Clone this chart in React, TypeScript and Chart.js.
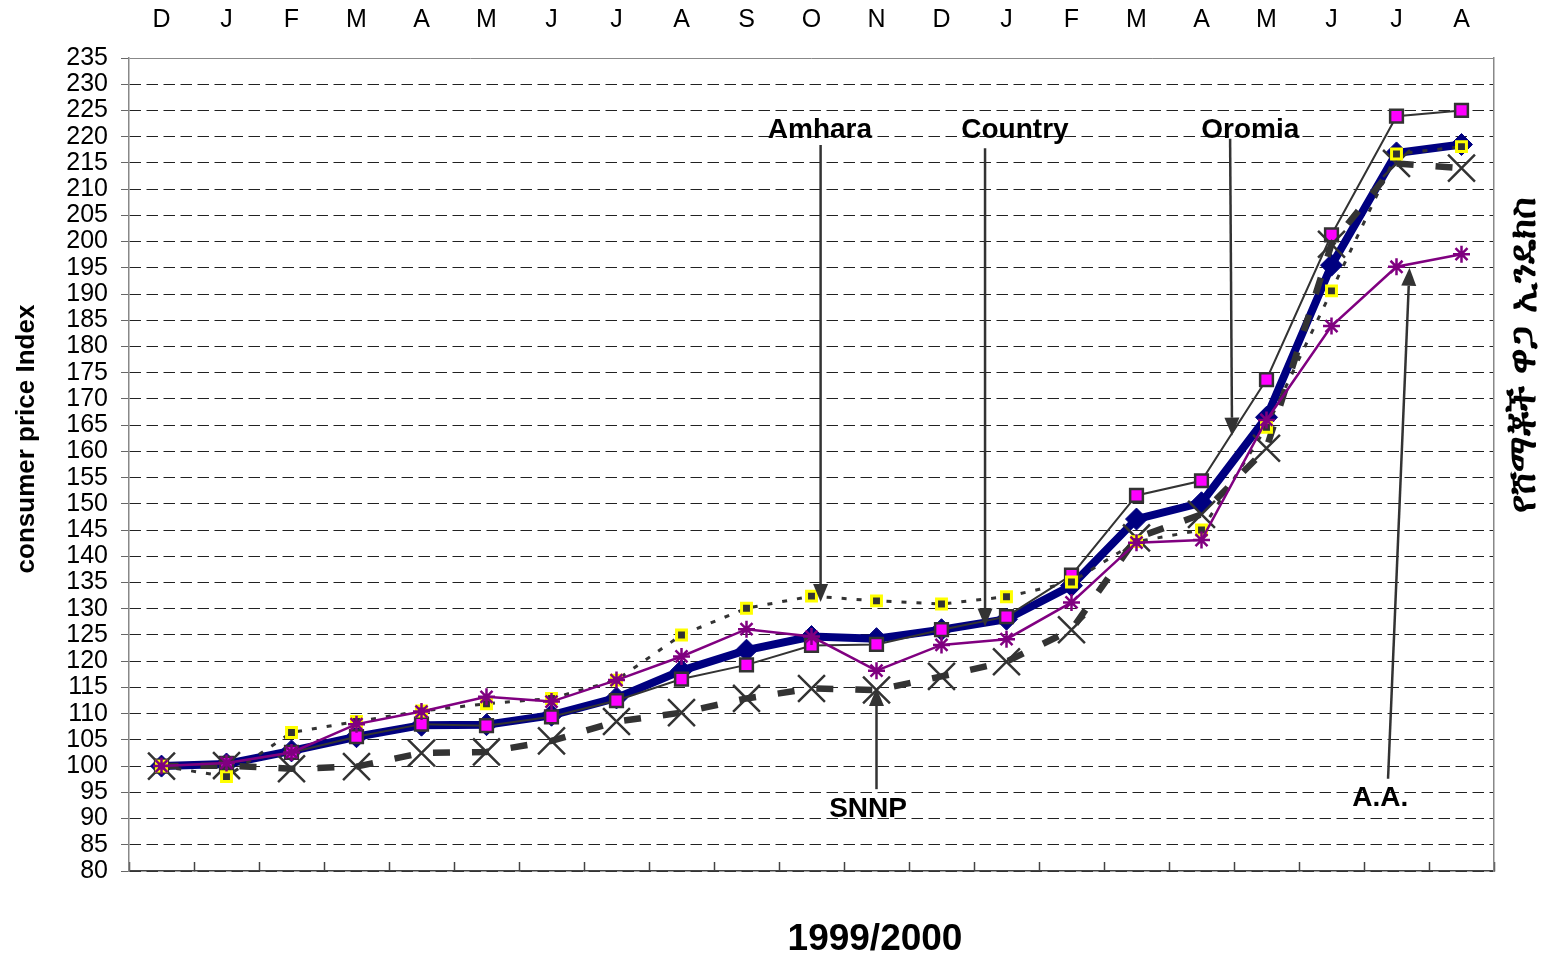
import { useEffect, useRef } from 'react';
import { Chart, registerables } from 'chart.js';

Chart.register(...registerables);

// ---- data ----
const months = ['D', 'J', 'F', 'M', 'A', 'M', 'J', 'J', 'A', 'S', 'O', 'N', 'D', 'J', 'F', 'M', 'A', 'M', 'J', 'J', 'A'];
const country = [100, 100.4, 102.9, 105.6, 107.8, 107.9, 109.7, 113.0, 118.2, 122.1, 124.7, 124.3, 126.0, 128.0, 134.4, 147.1, 150.2, 166.5, 195.5, 216.9, 218.5];
const oromia = [100, 100.5, 102.6, 105.6, 108.0, 107.7, 109.4, 112.5, 116.6, 119.3, 123.0, 123.2, 126.0, 128.5, 136.4, 151.6, 154.4, 173.7, 201.3, 223.9, 225.0];
const amhara = [100, 98.0, 106.4, 108.5, 110.5, 111.9, 112.9, 116.4, 125.0, 130.1, 132.4, 131.5, 130.9, 132.3, 135.1, 142.8, 145.0, 164.6, 190.6, 216.7, 218.1];
const snnp = [100, 100.1, 99.5, 99.9, 102.5, 102.7, 104.8, 108.5, 110.2, 112.9, 114.8, 114.5, 117.1, 119.9, 126.0, 143.5, 148.0, 160.6, 199.5, 214.9, 214.0];
const addisAbaba = [100, 100.6, 102.6, 108.0, 110.4, 113.2, 112.3, 116.4, 120.9, 126.1, 124.7, 118.2, 123.1, 124.2, 131.2, 142.6, 143.1, 166.0, 183.9, 195.2, 197.6];

const yMin = 80;
const yMax = 235;
const yStep = 5;

const yTitle = 'consumer price Index';
const xTitle = '1999/2000';
const rightTitle = 'የሸማቾች ዋጋ ኢንዴክስ';

// callouts anchored in data space: [category index, value]
const calloutNames = ['Amhara', 'Country', 'Oromia', 'SNNP', 'A.A.'];
const calloutLabelAt: [number, number][] = [[10.13, 221.3], [13.13, 221.3], [16.75, 221.3], [10.87, 91.8], [18.75, 93.9]];
const calloutFrom: [number, number][] = [[10.14, 218.4], [12.67, 217.8], [16.44, 219.6], [11.0, 95.6], [18.87, 97.6]];
const calloutTo: [number, number][] = [[10.14, 131.3], [12.67, 126.6], [16.47, 163.0], [11.0, 114.9], [19.2, 195.0]];

const FONT = 'Arial, "Liberation Sans", sans-serif';

function drawArrow(ctx: CanvasRenderingContext2D, x1: number, y1: number, x2: number, y2: number) {
  const ang = Math.atan2(y2 - y1, x2 - x1);
  const hl = 18;
  const hw = 7.5;
  const bx = x2 - hl * Math.cos(ang);
  const by = y2 - hl * Math.sin(ang);
  ctx.beginPath();
  ctx.moveTo(x1, y1);
  ctx.lineTo(bx, by);
  ctx.stroke();
  ctx.beginPath();
  ctx.moveTo(x2, y2);
  ctx.lineTo(bx + hw * Math.sin(ang), by - hw * Math.cos(ang));
  ctx.lineTo(bx - hw * Math.sin(ang), by + hw * Math.cos(ang));
  ctx.closePath();
  ctx.fill();
}

const overlayPlugin = {
  id: 'overlay',
  afterDraw(chart: any) {
    const ctx: CanvasRenderingContext2D = chart.ctx;
    const xs = chart.scales.x;
    const ys = chart.scales.y;
    const area = chart.chartArea;
    ctx.save();
    // callouts
    ctx.strokeStyle = '#333333';
    ctx.fillStyle = '#333333';
    ctx.lineWidth = 2.5;
    for (let i = 0; i < calloutNames.length; i++) {
      const f = calloutFrom[i];
      const t = calloutTo[i];
      drawArrow(ctx, xs.getPixelForValue(f[0]), ys.getPixelForValue(f[1]), xs.getPixelForValue(t[0]), ys.getPixelForValue(t[1]));
    }
    ctx.fillStyle = '#000';
    ctx.font = `bold 28px ${FONT}`;
    ctx.textAlign = 'center';
    ctx.textBaseline = 'middle';
    for (let i = 0; i < calloutNames.length; i++) {
      const p = calloutLabelAt[i];
      ctx.fillText(calloutNames[i], xs.getPixelForValue(p[0]), ys.getPixelForValue(p[1]));
    }
    // axis titles
    ctx.font = `bold 26px ${FONT}`;
    ctx.save();
    ctx.translate(26.5, area.top + 381);
    ctx.rotate(-Math.PI / 2);
    ctx.fillText(yTitle, 0, 0);
    ctx.restore();

    ctx.font = `bold 37px ${FONT}`;
    ctx.fillText(xTitle, 875, area.bottom + 69);

    ctx.font = `bold 37px "DejaVu Sans", "Noto Sans", sans-serif`;
    ctx.save();
    ctx.translate(area.right + 31, area.top + 297);
    ctx.rotate(-Math.PI / 2);
    ctx.fillText(rightTitle, 0, 0);
    ctx.restore();
    ctx.restore();
  },
};

export default function App() {
  const ref = useRef<HTMLCanvasElement>(null);
  useEffect(() => {
    Chart.defaults.font.family = FONT;
    const chart = new Chart(ref.current as HTMLCanvasElement, {
      type: 'line',
      data: {
        labels: months,
        datasets: [
          {
            label: 'A.A.',
            data: addisAbaba,
            order: 1,
            borderColor: '#800080',
            borderWidth: 2.5,
            pointStyle: 'star',
            pointRadius: 8.5,
            pointBorderColor: '#800080',
            pointBackgroundColor: '#800080',
            pointBorderWidth: 2.5,
            tension: 0,
          },
          {
            label: 'Amhara',
            data: amhara,
            order: 2,
            borderColor: '#333333',
            borderWidth: 3,
            borderDash: [5, 10],
            pointStyle: 'rect',
            pointRadius: 7,
            pointBackgroundColor: '#333333',
            pointBorderColor: '#FFFF00',
            pointBorderWidth: 3,
            tension: 0,
          },
          {
            label: 'SNNP',
            data: snnp,
            order: 3,
            borderColor: '#333333',
            borderWidth: 6.5,
            borderDash: [17, 22],
            pointStyle: 'crossRot',
            pointRadius: 19,
            pointBorderColor: '#333333',
            pointBorderWidth: 2.5,
            tension: 0,
          },
          {
            label: 'Oromia',
            data: oromia,
            order: 4,
            borderColor: '#333333',
            borderWidth: 2,
            pointStyle: 'rect',
            pointRadius: 9,
            pointBackgroundColor: '#FF00FF',
            pointBorderColor: '#333333',
            pointBorderWidth: 2.5,
            tension: 0,
          },
          {
            label: 'Country',
            data: country,
            order: 5,
            borderColor: '#000080',
            borderWidth: 8,
            pointStyle: 'rectRot',
            pointRadius: 11,
            pointBackgroundColor: '#000080',
            pointBorderColor: '#000080',
            pointBorderWidth: 1,
            tension: 0,
          },
        ],
      },
      options: {
        animation: false,
        responsive: false,
        devicePixelRatio: 1,
        layout: { padding: 0 },
        plugins: {
          legend: { display: false },
          tooltip: { enabled: false },
        },
        scales: {
          x: {
            type: 'category',
            position: 'top',
            offset: true,
            grid: { display: false },
            border: { display: false },
            ticks: {
              color: '#000',
              font: { size: 25, lineHeight: 1 },
              padding: 17,
              maxRotation: 0,
              autoSkip: false,
            },
            afterFit: (s: any) => { s.height = 58; },
          },
          x2: {
            type: 'category',
            position: 'bottom',
            labels: months,
            offset: true,
            grid: {
              offset: true,
              drawOnChartArea: false,
              drawTicks: true,
              tickLength: -9,
              tickColor: '#444',
              tickWidth: 1.5,
            },
            border: { display: true, color: '#444', width: 1.5 },
            ticks: { display: false },
            afterFit: (s: any) => { s.height = 88; },
          },
          y: {
            type: 'linear',
            position: 'left',
            min: yMin,
            max: yMax,
            ticks: {
              stepSize: yStep,
              autoSkip: false,
              color: '#000',
              font: { size: 25, lineHeight: 1 },
              padding: 13,
            },
            grid: {
              color: (c: any) => (c.tick && c.tick.value === yMax ? '#888' : '#222'),
              lineWidth: 1,
              tickLength: 8,
              tickColor: '#666',
            },
            border: {
              display: true,
              color: '#888',
              width: 1.5,
              dash: (c: any) => (c.type === 'tick' && c.tick && c.tick.value !== yMax ? [11.5, 5.5] : []),
            },
            afterFit: (s: any) => { s.width = 129; },
          },
          y2: {
            type: 'linear',
            position: 'right',
            min: yMin,
            max: yMax,
            ticks: { display: false },
            grid: { drawOnChartArea: false, drawTicks: false },
            border: { display: true, color: '#888', width: 1.5 },
            afterFit: (s: any) => { s.width = 47; },
          },
        },
      },
      plugins: [overlayPlugin],
    } as any);
    return () => chart.destroy();
  }, []);
  return (
    <div style={{ position: 'fixed', left: 0, top: 0, width: 1541, height: 959, background: '#fff' }}>
      <canvas ref={ref} width={1541} height={959} style={{ display: 'block', width: 1541, height: 959 }} />
    </div>
  );
}
